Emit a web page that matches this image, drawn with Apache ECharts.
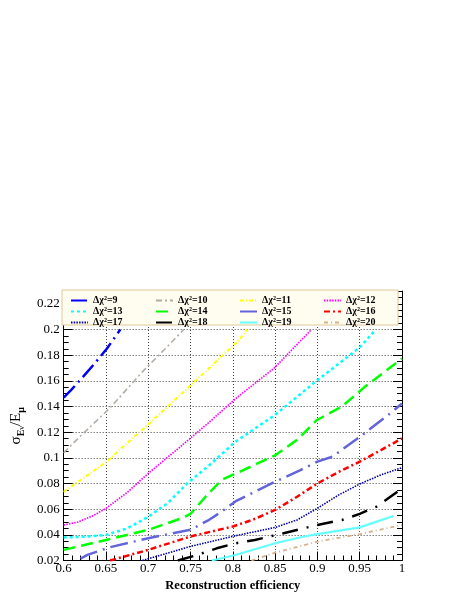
<!DOCTYPE html>
<html>
<head>
<meta charset="utf-8">
<script src="https://cdn.jsdelivr.net/npm/echarts@6/dist/echarts.min.js"></script>
<style>
html,body{margin:0;padding:0;background:#fff;}
#c{width:473px;height:612px;}
</style>
</head>
<body>
<div id="c"></div>
<script>
// ---- data (x = reconstruction efficiency, y = sigma_E/E) ----
const chi9  = [[0.6,0.147],[0.609,0.153],[0.62,0.161],[0.636,0.173],[0.651,0.185],[0.667,0.2]];
const chi10 = [[0.6,0.104],[0.62,0.117],[0.655,0.139],[0.693,0.167],[0.72,0.185],[0.742,0.2]];
const chi11 = [[0.6,0.0735],[0.625,0.085],[0.651,0.097],[0.67,0.1086],[0.7,0.126],[0.723,0.14],[0.769,0.168],[0.807,0.1916],[0.817,0.2]];
const chi12 = [[0.6,0.0476],[0.617,0.05],[0.635,0.055],[0.65,0.0606],[0.675,0.073],[0.7,0.0879],[0.735,0.107],[0.769,0.126],[0.803,0.146],[0.849,0.17],[0.893,0.2]];
const chi13 = [[0.6,0.038],[0.625,0.0385],[0.65,0.04],[0.675,0.045],[0.7,0.054],[0.723,0.0647],[0.746,0.08],[0.775,0.0958],[0.803,0.1125],[0.849,0.133],[0.899,0.16],[0.95,0.186],[0.969,0.2]];
const chi14 = [[0.6,0.0283],[0.65,0.036],[0.7,0.0439],[0.74,0.053],[0.75,0.0564],[0.768,0.0699],[0.787,0.0829],[0.813,0.0906],[0.85,0.102],[0.876,0.114],[0.899,0.1293],[0.929,0.14],[0.956,0.1553],[1.0,0.1774]];
const chi15 = [[0.62,0.0215],[0.628,0.0244],[0.655,0.0304],[0.7,0.0374],[0.75,0.0439],[0.772,0.0517],[0.787,0.0582],[0.803,0.066],[0.85,0.0814],[0.88,0.0905],[0.9,0.097],[0.918,0.101],[0.95,0.1163],[0.986,0.1346],[1.0,0.1423]];
const chi16 = [[0.655,0.02],[0.7,0.0283],[0.75,0.0387],[0.8,0.0465],[0.823,0.0516],[0.85,0.0594],[0.876,0.0697],[0.9,0.08],[0.925,0.089],[0.95,0.097],[0.975,0.106],[1.0,0.1151]];
const chi17 = [[0.693,0.02],[0.75,0.031],[0.8,0.0388],[0.85,0.0458],[0.876,0.0516],[0.9,0.0607],[0.925,0.071],[0.95,0.0796],[0.975,0.0867],[1.0,0.0923]];
const chi18 = [[0.735,0.02],[0.758,0.0243],[0.781,0.0295],[0.803,0.0334],[0.826,0.036],[0.86,0.0412],[0.9,0.0477],[0.929,0.0516],[0.95,0.0563],[0.97,0.062],[1.0,0.0762]];
const chi19 = [[0.775,0.02],[0.803,0.0243],[0.85,0.0334],[0.883,0.0385],[0.9,0.0406],[0.95,0.0458],[0.97,0.0503],[0.99,0.0547]];
const chi20 = [[0.822,0.02],[0.85,0.0261],[0.9,0.0347],[0.95,0.0406],[1.0,0.0477]];

const seriesNames = ['Δχ²=9','Δχ²=10','Δχ²=11','Δχ²=12','Δχ²=13','Δχ²=14','Δχ²=15','Δχ²=16','Δχ²=17','Δχ²=18','Δχ²=19','Δχ²=20'];
const seriesData  = [chi9,chi10,chi11,chi12,chi13,chi14,chi15,chi16,chi17,chi18,chi19,chi20];
const xTicks = {min:0.6, max:1.0, step:0.05};
const yTicks = {min:0.02, max:0.23, step:0.02};

// ---- styles ----
const styles = [
  {color:'#0000ff', width:2.5, type:[16,5,2,5]},
  {color:'#b4aca4', width:1.6, type:[6,3,2,3]},
  {color:'#ffff00', width:2.0, type:[4,2,1,2]},
  {color:'#ff00ff', width:1.7, type:[1.5,1.2]},
  {color:'#00ffff', width:2.5, type:[3,3]},
  {color:'#00ff00', width:2.5, type:[12,6]},
  {color:'#6464dc', width:2.5, type:[18,6,2,6]},
  {color:'#ff0000', width:2.5, type:[6,3,2,3]},
  {color:'#0000aa', width:1.6, type:[1.5,1.2]},
  {color:'#000000', width:2.5, type:[16,9,2,9]},
  {color:'#66ffff', width:2.2, type:'solid'},
  {color:'#d2b48c', width:1.8, type:[4,3,1,3]}
];

const FONT = '"Liberation Serif","Times New Roman",serif';
const chart = echarts.init(document.getElementById('c'));

const series = seriesData.map((d,i)=>({
  name: seriesNames[i], type:'line', data:d, showSymbol:false, symbol:'none',
  smooth:false, clip:true,
  lineStyle:{color:styles[i].color, width:styles[i].width, type:styles[i].type},
  itemStyle:{color:styles[i].color}, z:2
}));

const legendCols = [[0,4,8],[1,5,9],[2,6,10],[3,7,11]];
const legendLeft = [65,150,234,318];
const legends = legendCols.map((col,k)=>({
  orient:'vertical', left:legendLeft[k], top:290, itemGap:0,
  itemWidth:17, itemHeight:11, z:6,
  data: col.map(i=>seriesNames[i]),
  itemStyle:{opacity:0, borderWidth:0},
  textStyle:{fontFamily:FONT, fontWeight:'bold', fontSize:10, color:'#000', lineHeight:11},
  selectedMode:false
}));

const gridLine = {show:true, lineStyle:{color:'#444', width:1, type:[1,2]}};

chart.setOption({
  animation:false,
  backgroundColor:'#fff',
  grid:{left:52, top:291, right:71, bottom:51.5},
  legend: legends,
  graphic:[{type:'rect', shape:{x:62, y:290, width:336, height:35},
    style:{fill:'#fffcf0', stroke:'#e0c898', lineWidth:1}, z:5}],
  xAxis:[{
    type:'value', min:xTicks.min, max:xTicks.max, interval:xTicks.step,
    name:'Reconstruction efficiency', nameLocation:'middle', nameGap:19,
    nameTextStyle:{fontFamily:FONT, fontWeight:'bold', fontSize:12.5, color:'#000'},
    axisLine:{show:true, onZero:false, lineStyle:{color:'#000', width:1}},
    axisTick:{show:true, inside:true, length:9, lineStyle:{color:'#000'}},
    minorTick:{show:true, splitNumber:5, length:5, lineStyle:{color:'#000'}},
    axisLabel:{fontFamily:FONT, fontSize:13, color:'#000', margin:2},
    splitLine:gridLine
  },{
    type:'value', position:'top', min:xTicks.min, max:xTicks.max, interval:xTicks.step,
    axisLine:{show:true, onZero:false, lineStyle:{color:'#000', width:1}},
    axisTick:{show:true, inside:true, length:9, lineStyle:{color:'#000'}},
    minorTick:{show:true, splitNumber:5, length:5, lineStyle:{color:'#000'}},
    axisLabel:{show:false}, splitLine:{show:false}
  }],
  yAxis:[{
    type:'value', min:yTicks.min, max:yTicks.max, interval:yTicks.step,
    name:'{m|σ}{s|E}{ss|ν}{m|/E}{s|μ}', nameLocation:'middle', nameGap:34, nameRotate:90,
    nameTextStyle:{
      rich:{
        m:{fontFamily:FONT, fontSize:15, color:'#000', lineHeight:20, verticalAlign:'middle'},
        s:{fontFamily:FONT, fontSize:10, fontWeight:'bold', color:'#000', lineHeight:20, verticalAlign:'bottom', padding:[6,0,0,0]},
        ss:{fontFamily:FONT, fontSize:8, color:'#000', lineHeight:20, verticalAlign:'bottom', padding:[10,0,0,0]}
      }
    },
    axisLine:{show:true, onZero:false, lineStyle:{color:'#000', width:1}},
    axisTick:{show:true, inside:true, length:9, lineStyle:{color:'#000'}},
    minorTick:{show:true, splitNumber:4, length:5, lineStyle:{color:'#000'}},
    axisLabel:{fontFamily:FONT, fontSize:13, color:'#000', margin:4, showMaxLabel:false,
      formatter:v=> (Math.abs(v/yTicks.step - Math.round(v/yTicks.step))<1e-6 ? String(+v.toFixed(2)) : '')},
    splitLine:gridLine
  },{
    type:'value', position:'right', min:yTicks.min, max:yTicks.max, interval:yTicks.step,
    axisLine:{show:true, onZero:false, lineStyle:{color:'#000', width:1}},
    axisTick:{show:true, inside:true, length:9, lineStyle:{color:'#000'}},
    minorTick:{show:true, splitNumber:4, length:5, lineStyle:{color:'#000'}},
    axisLabel:{show:false}, splitLine:{show:false}
  }],
  series: series
});
</script>
</body>
</html>
